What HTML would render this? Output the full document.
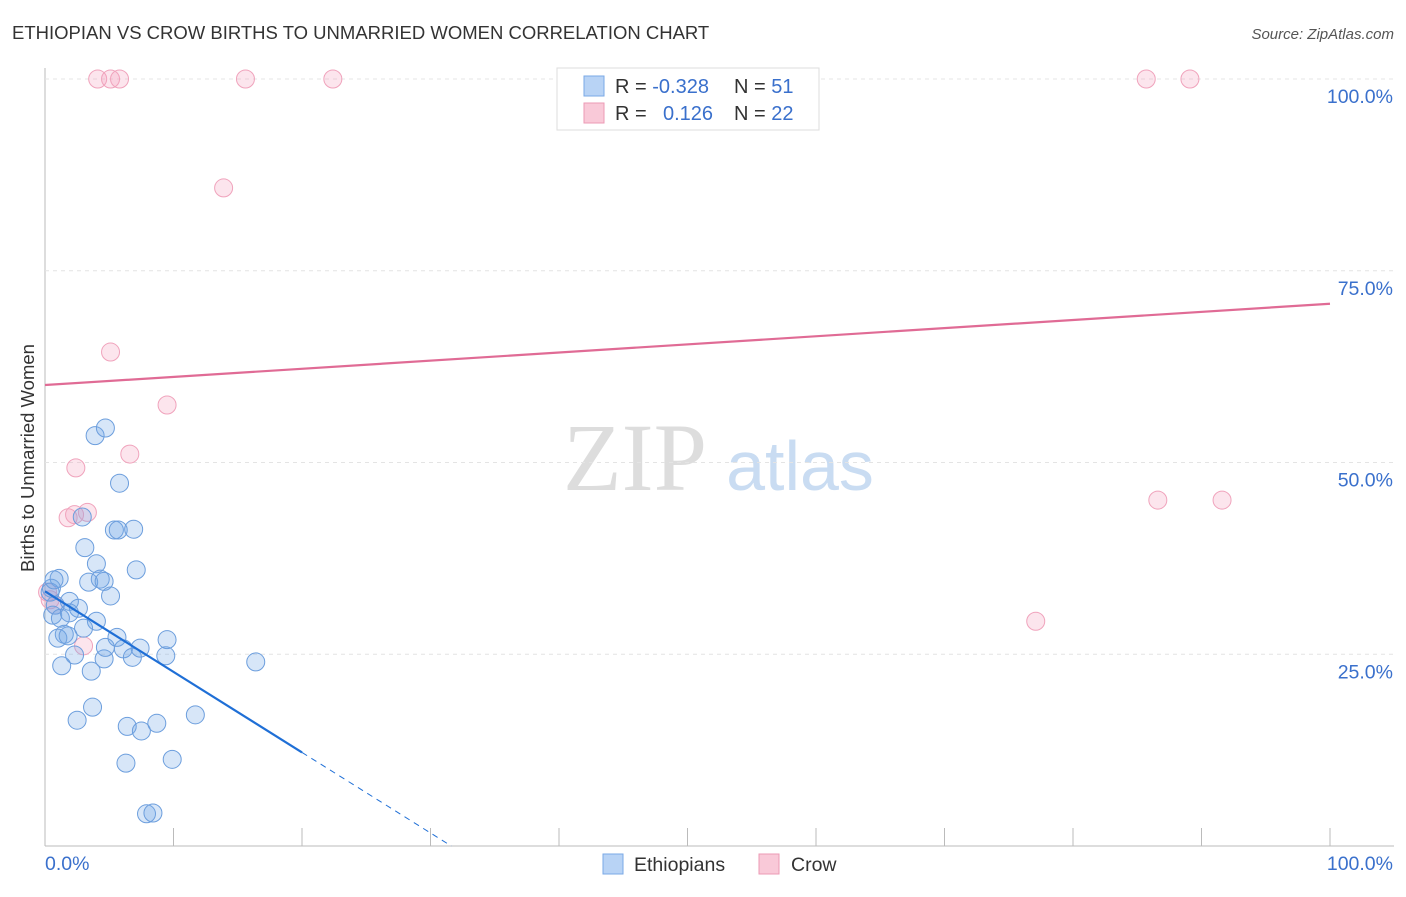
<!DOCTYPE html>
<html><head><meta charset="utf-8"><style>
body{margin:0;background:#fff;font-family:"Liberation Sans",sans-serif}
</style></head><body>
<svg id="c" width="1406" height="892" xmlns="http://www.w3.org/2000/svg">
<text x="12" y="39" font-size="18.5" fill="#333">ETHIOPIAN VS CROW BIRTHS TO UNMARRIED WOMEN CORRELATION CHART</text>
<text x="1394" y="39" font-size="15" fill="#555" font-style="italic" text-anchor="end">Source: ZipAtlas.com</text>
<text x="34" y="458" font-size="18.5" fill="#333" text-anchor="middle" transform="rotate(-90 34 458)">Births to Unmarried Women</text>
<text x="635" y="490" font-size="96" fill="#ddd" font-family="Liberation Serif" text-anchor="middle">ZIP</text>
<text x="800" y="490" font-size="70" fill="#c9dcf2" text-anchor="middle">atlas</text>
<g id="grid"></g><g id="pts"></g><g id="lines"></g>
<g>
<rect x="557" y="68" width="262" height="62" fill="#fff" stroke="#ddd"/>
<rect x="584" y="76" width="20" height="20" fill="#b8d3f5" stroke="#7aa8e6"/>
<rect x="584" y="103" width="20" height="20" fill="#f9c9d8" stroke="#ec9ab5"/>
<text x="615" y="93" font-size="20" fill="#333">R = <tspan fill="#3a70cc">-0.328</tspan></text>
<text x="734" y="93" font-size="20" fill="#333">N = <tspan fill="#3a70cc"> 51</tspan></text>
<text x="615" y="120" font-size="20" fill="#333">R = <tspan fill="#3a70cc" x="663">0.126</tspan></text>
<text x="734" y="120" font-size="20" fill="#333">N = <tspan fill="#3a70cc">22</tspan></text>
</g>
<g>
<rect x="603" y="854" width="20" height="20" fill="#b8d3f5" stroke="#7aa8e6"/>
<text x="634" y="871" font-size="19.5" fill="#333">Ethiopians</text>
<rect x="759" y="854" width="20" height="20" fill="#f9c9d8" stroke="#ec9ab5"/>
<text x="791" y="871" font-size="19.5" fill="#333">Crow</text>
</g>
</svg>
<script>
const blueX=[3.9,4.7,5.8,2.9,5.4,5.7,6.9,3.1,4.0,7.1,3.4,4.3,4.6,5.1,1.1,0.5,0.8,1.9,2.6,0.6,1.2,4.0,3.0,1.5,1.0,1.8,2.3,1.3,3.6,4.6,4.7,5.6,6.1,6.8,7.4,9.4,9.5,2.5,3.7,6.4,7.5,8.7,11.7,6.3,9.9,7.9,8.4,16.4,0.4,0.7,1.9];
const blueY=[53.5,54.5,47.3,42.9,41.2,41.2,41.3,38.9,36.8,36.0,34.4,34.8,34.5,32.6,34.9,33.6,31.4,31.9,31.0,30.1,29.7,29.3,28.4,27.6,27.1,27.4,24.9,23.5,22.8,24.4,25.9,27.2,25.7,24.6,25.8,24.8,26.9,16.4,18.1,15.6,15.0,16.0,17.1,10.8,11.3,4.2,4.3,24.0,33.1,34.7,30.4];
const pinkX=[4.1,5.1,5.8,15.6,22.4,85.7,89.1,13.9,5.1,9.5,6.6,2.4,1.8,2.3,3.3,3.0,86.6,91.6,77.1,0.2,0.8,0.4];
const pinkY=[100,100,100,100,100,100,100,85.8,64.4,57.5,51.1,49.3,42.8,43.2,43.5,26.1,45.1,45.1,29.3,33.1,31.4,32.1];
const yTicks=[25,50,75,100];
const yTickLabels=["25.0%","50.0%","75.0%","100.0%"];
const blueTrend=[33.2,-1.05];
const pinkTrend=[60.1,0.106];
const X=v=>45+v*12.85, Y=v=>846-v*7.67;
const NS="http://www.w3.org/2000/svg";
function mk(p,t,a){const e=document.createElementNS(NS,t);for(const k in a)e.setAttribute(k,a[k]);document.getElementById(p).appendChild(e);return e;}
const g='grid';
let ax=mk(g,'line',{x1:45,y1:68,x2:45,y2:846,stroke:'#bbb'});


let bx=mk(g,'line',{x1:45,y1:846,x2:1394,y2:846,stroke:'#bbb'});


for(let i=1;i<=10;i++){let t=mk(g,'line',{x1:X(i*10),y1:828,x2:X(i*10),y2:846,stroke:'#bbb'});

}
yTicks.forEach((v,i)=>{let l=mk(g,'line',{x1:45,y1:Y(v),x2:1394,y2:Y(v),stroke:'#e4e4e4','stroke-dasharray':'4,4'});


let t=mk(g,'text',{x:1393,y:Y(v)+24,'font-size':19.5,fill:'#3a70cc','text-anchor':'end'});t.textContent=yTickLabels[i];

});
let x0=mk(g,'text',{x:45,y:870,'font-size':19.5,fill:'#3a70cc'});x0.textContent='0.0%';


let x1=mk(g,'text',{x:1393,y:870,'font-size':19.5,fill:'#3a70cc','text-anchor':'end'});x1.textContent='100.0%';


pinkX.forEach((v,i)=>{let c=mk('pts','circle',{cx:X(v),cy:Y(pinkY[i]),r:9,fill:'rgba(244,160,190,0.28)',stroke:'#f0a3bc','stroke-width':1});

});
blueX.forEach((v,i)=>{let c=mk('pts','circle',{cx:X(v),cy:Y(blueY[i]),r:9,fill:'rgba(110,165,230,0.28)',stroke:'#6c9edd','stroke-width':1});

});
const bf=x=>blueTrend[0]+blueTrend[1]*x, pf=x=>pinkTrend[0]+pinkTrend[1]*x;
let b1=mk('lines','line',{x1:X(0),y1:Y(bf(0)),x2:X(20),y2:Y(bf(20)),stroke:'#1f6fd6','stroke-width':2.2});


const xe=-blueTrend[0]/blueTrend[1];
let b2=mk('lines','line',{x1:X(20),y1:Y(bf(20)),x2:X(xe),y2:Y(0),stroke:'#1f6fd6','stroke-width':1,'stroke-dasharray':'6,5'});


let p1=mk('lines','line',{x1:X(0),y1:Y(pf(0)),x2:X(100),y2:Y(pf(100)),stroke:'#e06b95','stroke-width':2.2});


</script>
</body></html>
